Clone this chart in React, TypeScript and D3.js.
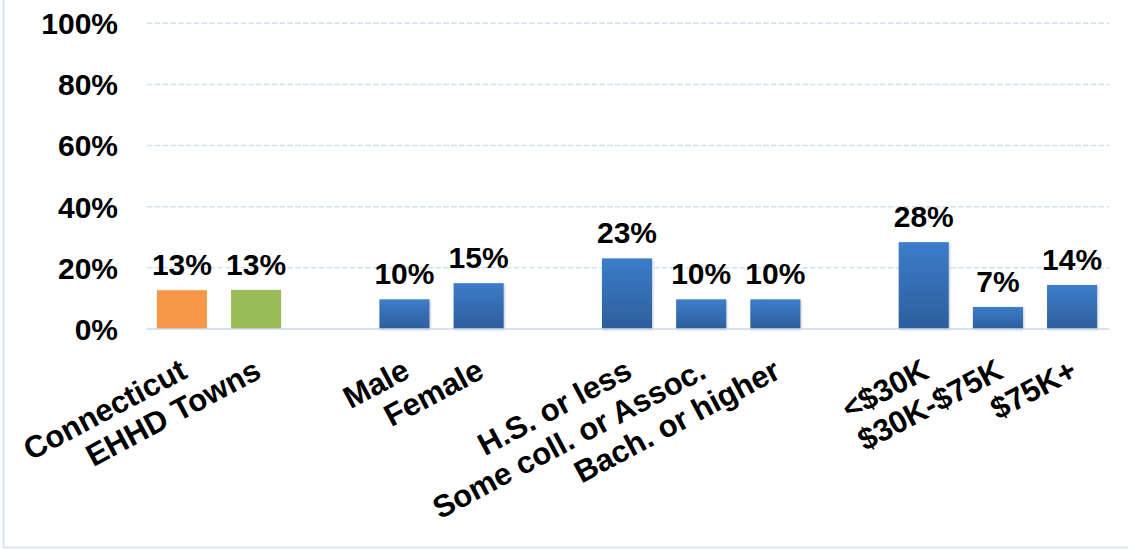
import { useEffect, useRef } from 'react';
import * as d3 from 'd3';

// Category slots, with empty spacer slots between the groups
const categories = [
  'Connecticut',
  'EHHD Towns',
  '_gap1',
  'Male',
  'Female',
  '_gap2',
  'H.S. or less',
  'Some coll. or Assoc.',
  'Bach. or higher',
  '_gap3',
  '<$30K',
  '$30K-$75K',
  '$75K+',
];

// Percent values (null for spacer slots)
const values: (number | null)[] = [12.7, 12.8, null, 9.7, 15.0, null, 23.1, 9.7, 9.7, null, 28.4, 7.2, 14.4];
const valueLabels = ['13%', '13%', '', '10%', '15%', '', '23%', '10%', '10%', '', '28%', '7%', '14%'];
const barColors = ['#F79646', '#9BBB59', '', 'blue', 'blue', '', 'blue', 'blue', 'blue', '', 'blue', 'blue', 'blue'];

const yTicks = [0, 20, 40, 60, 80, 100];

const WIDTH = 1128;
const HEIGHT = 550;
const PLOT = { left: 147, right: 1109, top: 23.3, bottom: 329 };
const FONT = '"Liberation Sans", Arial, Helvetica, sans-serif';

export default function App() {
  const svgRef = useRef<SVGSVGElement>(null);

  useEffect(() => {
    if (!svgRef.current) return;
    const svg = d3.select(svgRef.current);
    svg.selectAll('*').remove();

    const defs = svg.append('defs');
    const grad = defs
      .append('linearGradient')
      .attr('id', 'blueGrad')
      .attr('x1', 0)
      .attr('y1', 0)
      .attr('x2', 0)
      .attr('y2', 1);
    grad.append('stop').attr('offset', '0%').attr('stop-color', '#3C7DCB');
    grad.append('stop').attr('offset', '100%').attr('stop-color', '#2D5E9B');

    const shadow = defs
      .append('filter')
      .attr('id', 'barShadow')
      .attr('x', '-10%')
      .attr('y', '-10%')
      .attr('width', '130%')
      .attr('height', '130%');
    shadow
      .append('feDropShadow')
      .attr('dx', 1)
      .attr('dy', 1)
      .attr('stdDeviation', 1.2)
      .attr('flood-color', '#000')
      .attr('flood-opacity', 0.22);

    // Outer frame (left and bottom edges visible)
    svg
      .append('rect')
      .attr('x', 3.5)
      .attr('y', -20)
      .attr('width', WIDTH + 40)
      .attr('height', 567.5)
      .attr('fill', 'none')
      .attr('stroke', '#D9E4F2')
      .attr('stroke-width', 2);

    const x = d3
      .scaleBand<string>()
      .domain(categories)
      .range([PLOT.left - 2, PLOT.right])
      .paddingInner(0.325)
      .paddingOuter(0.16);
    const y = d3.scaleLinear().domain([0, 100]).range([PLOT.bottom, PLOT.top]);

    // Gridlines
    svg
      .append('g')
      .selectAll('line')
      .data(yTicks.filter(t => t > 0))
      .enter()
      .append('line')
      .attr('x1', PLOT.left)
      .attr('x2', PLOT.right)
      .attr('y1', d => y(d))
      .attr('y2', d => y(d))
      .attr('stroke', '#D3E0F1')
      .attr('stroke-width', 1.5)
      .attr('stroke-dasharray', '5.5,2.3');

    // Y tick labels
    svg
      .append('g')
      .selectAll('text')
      .data(yTicks)
      .enter()
      .append('text')
      .attr('x', 118)
      .attr('y', d => y(d))
      .attr('dy', '0.36em')
      .attr('text-anchor', 'end')
      .attr('font-family', FONT)
      .attr('font-weight', 'bold')
      .attr('font-size', 30)
      .attr('fill', '#000')
      .text(d => `${d}%`);

    const data = categories.map((c, i) => ({ key: c, value: values[i], label: valueLabels[i], color: barColors[i] }));
    const bars = data.filter(d => d.value !== null);

    // Bars
    svg
      .append('g')
      .selectAll('rect')
      .data(bars)
      .enter()
      .append('rect')
      .attr('x', d => x(d.key) ?? 0)
      .attr('y', d => y(d.value as number))
      .attr('width', x.bandwidth())
      .attr('height', d => y(0) - y(d.value as number))
      .attr('fill', d => (d.color === 'blue' ? 'url(#blueGrad)' : d.color))
      .attr('filter', d => (d.color === 'blue' ? 'url(#barShadow)' : null));

    // Baseline
    svg
      .append('line')
      .attr('x1', PLOT.left)
      .attr('x2', PLOT.right)
      .attr('y1', y(0))
      .attr('y2', y(0))
      .attr('stroke', '#C9D9EE')
      .attr('stroke-width', 1.5);

    // Value labels
    svg
      .append('g')
      .selectAll('text')
      .data(bars)
      .enter()
      .append('text')
      .attr('x', d => (x(d.key) ?? 0) + x.bandwidth() / 2)
      .attr('y', d => y(d.value as number) - 15)
      .attr('text-anchor', 'middle')
      .attr('font-family', FONT)
      .attr('font-weight', 'bold')
      .attr('font-size', 30)
      .attr('fill', '#000')
      .text(d => d.label);

    // Category labels, rotated
    svg
      .append('g')
      .selectAll('text')
      .data(data.filter(d => !d.key.startsWith('_gap')))
      .enter()
      .append('text')
      .attr('transform', d => `translate(${(x(d.key) ?? 0) + x.bandwidth() / 2 + 7}, 377) rotate(-28)`)
      .attr('text-anchor', 'end')
      .attr('font-family', FONT)
      .attr('font-weight', 'bold')
      .attr('font-size', 31)
      .attr('fill', '#000')
      .text(d => d.key);
  }, []);

  return (
    <div style={{ position: 'absolute', left: 0, top: 0, width: WIDTH, height: HEIGHT, background: '#fff' }}>
      <svg ref={svgRef} width={WIDTH} height={HEIGHT} style={{ display: 'block' }} />
    </div>
  );
}
